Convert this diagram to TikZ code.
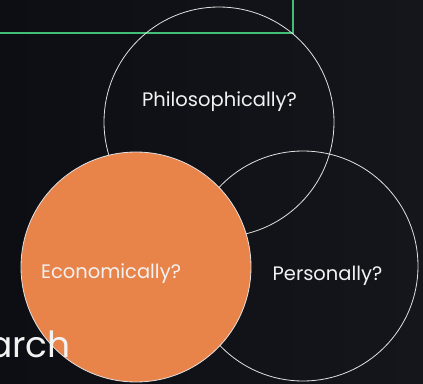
\documentclass[tikz,border=0pt]{standalone}
\usepackage{fontspec}
\setmainfont{Poppins}
\definecolor{bgleft}{RGB}{12,14,20}
\definecolor{bgright}{RGB}{21,22,27}
\definecolor{accentgreen}{RGB}{66,190,118}
\definecolor{orangefill}{RGB}{232,131,74}
\definecolor{ringline}{RGB}{225,225,225}
\definecolor{txt}{RGB}{242,242,242}
\tikzset{
  ring/.style={circle, draw=ringline, line width=0.8pt, minimum size=230pt, inner sep=0pt},
  label/.style={text=txt, font=\fontsize{19.5}{22}\selectfont, anchor=base, inner sep=0pt},
}
\begin{document}
\begin{tikzpicture}[x=1pt,y=-1pt]
\useasboundingbox (0,0) rectangle (423,383);
\shade[left color=bgleft, right color=bgright] (0,0) rectangle (423,383);
% green frame corner
\coordinate (gl) at (0,33);
\coordinate (gc) at (293,33);
\coordinate (gt) at (293,0);
\draw[accentgreen, line width=2.4pt] (gl) -- (gc) -- (gt);
% circles
\node[ring] (philo) at (219,122) {};
\node[ring] (pers) at (303,266) {};
\node[ring, fill=orangefill] (econ) at (136,267) {};
\node[text=txt, font=\fontsize{36}{40}\selectfont, anchor=base east, inner sep=0pt] (arch) at (71,357.5) {arch};
% labels
\node[label] (philot) at (219.5,106) {Philosophically?};
\node[label] (perst) at (327.5,280) {Personally?};
\node[label] (econt) at (111,278) {Economically?};
\end{tikzpicture}
\end{document}
